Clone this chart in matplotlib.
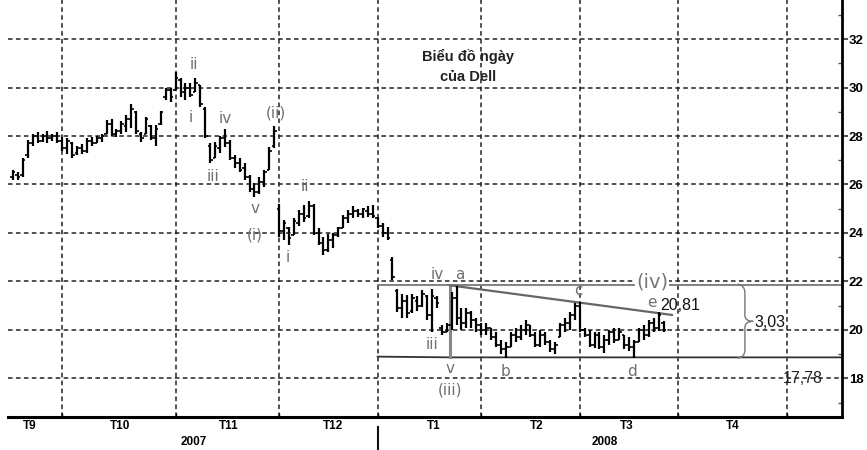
import matplotlib
matplotlib.use("Agg")
import matplotlib.pyplot as plt
from matplotlib.path import Path
from matplotlib.patches import PathPatch
import matplotlib.transforms as mtransforms

plt.rcParams['font.family'] = ['Liberation Sans', 'DejaVu Sans']

# trading day index (0 = first session of T10/2007)
days = list(range(-10, 123))
highs = [26.6, 26.5, 27.1, 27.85, 28.1, 28.15, 28.1, 28.2, 28.1, 28.15,
         27.95, 27.9, 27.75, 27.6, 27.65, 27.9, 27.95, 28.0, 28.1, 28.65,
         28.7, 28.3, 28.6, 28.85, 29.3, 29.05, 28.15, 28.8, 28.45, 28.45,
         29.05, 30.0, 30.0, 30.65, 30.4, 30.2, 30.2, 30.4, 30.1, 29.2,
         27.7, 27.75, 28.0, 28.3, 27.85, 27.2, 27.1, 26.9, 26.4, 26.05,
         26.3, 26.6, 27.55, 28.4, 25.2, 24.55, 24.25, 24.6, 24.95, 25.15,
         25.3, 25.2, 24.2, 23.85, 23.95, 24.0, 24.25, 24.75, 24.95, 25.1,
         25.0, 25.05, 25.1, 25.15, 24.65, 24.4, 24.25, 23.0, 21.7, 21.5,
         21.45, 21.5, 21.4, 21.65, 21.45, 21.7, 21.4, 20.2, 20.3, 21.55,
         21.8, 20.9, 20.9, 20.8, 20.5, 20.3, 20.3, 20.1, 19.9, 19.6,
         19.5, 19.9, 20.1, 20.2, 20.4, 20.2, 19.9, 20.0, 19.9, 19.6,
         19.5, 20.3, 20.5, 20.75, 21.1, 21.15, 20.1, 20.0, 19.9, 19.9,
         19.8, 20.0, 20.1, 20.1, 19.8, 19.7, 19.6, 20.1, 20.2, 20.4,
         20.5, 20.75, 20.35]
lows = [26.2, 26.2, 26.3, 27.1, 27.6, 27.7, 27.75, 27.7, 27.8, 27.7,
        27.4, 27.25, 27.1, 27.2, 27.25, 27.3, 27.6, 27.7, 27.75, 28.1,
        28.0, 27.95, 28.1, 28.15, 28.35, 28.1, 27.75, 28.1, 27.85, 27.6,
        28.45, 29.5, 29.4, 29.9, 29.6, 29.5, 29.6, 29.8, 29.2, 27.9,
        26.9, 27.1, 27.3, 27.55, 27.0, 26.7, 26.5, 26.2, 25.7, 25.5,
        25.6, 25.9, 26.6, 27.5, 23.85, 23.7, 23.5, 23.9, 24.3, 24.45,
        24.6, 23.9, 23.5, 23.1, 23.2, 23.4, 23.85, 24.2, 24.4, 24.6,
        24.65, 24.6, 24.65, 24.6, 24.2, 23.85, 23.7, 22.05, 20.75, 20.5,
        20.5, 20.7, 20.8, 20.95, 20.4, 19.9, 20.9, 19.8, 19.9, 20.0,
        20.2, 20.0, 20.1, 20.1, 19.9, 19.8, 19.8, 19.6, 19.3, 19.0,
        18.85, 19.3, 19.5, 19.6, 19.8, 19.7, 19.3, 19.3, 19.4, 19.1,
        19.0, 19.7, 19.9, 20.0, 20.4, 19.9, 19.7, 19.3, 19.25, 19.2,
        19.05, 19.4, 19.45, 19.6, 19.2, 19.15, 18.85, 19.5, 19.6, 19.7,
        19.9, 19.95, 19.9]
opens = [26.3, 26.4, 26.4, 27.2, 27.7, 28.0, 27.8, 28.0, 27.9, 28.0,
         27.8, 27.5, 27.7, 27.3, 27.5, 27.4, 27.8, 27.7, 27.9, 28.1,
         28.5, 28.1, 28.2, 28.4, 28.7, 29.0, 28.1, 28.1, 28.4, 27.9,
         28.5, 29.6, 29.9, 29.9, 30.3, 29.8, 30.0, 29.8, 30.1, 29.1,
         27.6, 27.1, 27.5, 27.9, 27.7, 27.1, 26.9, 26.7, 26.3, 25.8,
         25.7, 26.1, 26.6, 27.6, 25.0, 24.1, 24.2, 23.9, 24.4, 24.8,
         24.7, 25.1, 24.0, 23.6, 23.3, 23.7, 23.9, 24.2, 24.6, 24.8,
         24.9, 24.8, 24.9, 24.8, 24.6, 24.3, 24.0, 22.9, 21.6, 20.9,
         21.2, 20.8, 21.2, 21.0, 21.4, 20.6, 21.3, 20.1, 19.9, 20.2,
         21.3, 20.5, 20.3, 20.7, 20.4, 20.2, 20.0, 20.1, 19.7, 19.4,
         19.2, 19.3, 19.8, 19.7, 20.0, 20.2, 19.8, 19.4, 19.8, 19.5,
         19.2, 19.7, 20.2, 20.3, 20.6, 21.0, 20.0, 19.8, 19.4, 19.8,
         19.3, 19.6, 19.9, 19.6, 19.8, 19.4, 19.3, 19.5, 20.0, 19.8,
         20.3, 20.1, 20.3]
closes = [26.5, 26.3, 27.0, 27.7, 28.0, 27.8, 28.0, 27.9, 28.0, 27.8,
          27.5, 27.8, 27.2, 27.5, 27.4, 27.8, 27.7, 27.9, 28.0, 28.5,
          28.1, 28.2, 28.5, 28.7, 29.1, 28.2, 27.9, 28.7, 27.9, 28.3,
          29.0, 29.9, 29.6, 30.4, 29.8, 30.0, 29.7, 30.2, 29.3, 28.0,
          27.0, 27.6, 27.9, 27.7, 27.1, 26.9, 26.6, 26.3, 25.8, 25.7,
          26.1, 26.5, 27.4, 28.2, 24.1, 24.4, 23.8, 24.5, 24.8, 24.6,
          25.1, 24.0, 23.6, 23.3, 23.7, 23.9, 24.2, 24.6, 24.8, 24.9,
          24.8, 25.0, 24.8, 24.7, 24.3, 24.0, 23.8, 22.2, 20.9, 21.2,
          20.7, 21.3, 21.0, 21.5, 20.6, 21.4, 21.1, 19.9, 20.2, 21.3,
          20.5, 20.3, 20.7, 20.4, 20.2, 20.0, 20.1, 19.7, 19.4, 19.2,
          19.3, 19.8, 19.7, 20.0, 20.2, 19.8, 19.4, 19.8, 19.5, 19.2,
          19.4, 20.2, 20.3, 20.6, 21.0, 20.0, 19.8, 19.4, 19.8, 19.3,
          19.6, 19.9, 19.6, 19.9, 19.4, 19.3, 19.5, 20.0, 19.8, 20.3,
          20.1, 20.6, 20.0]

month_starts = [0, 23, 44, 64, 85, 105, 125, 147]
month_labels = ['T9', 'T10', 'T11', 'T12', 'T1', 'T2', 'T3', 'T4']
month_label_pos = [-6.5, 11.8, 33.7, 55.0, 75.3, 96.3, 114.6, 136.1]
year_labels = ['2007', '2008']
year_label_pos = [26.6, 110.1]
price_ticks = [18, 20, 22, 24, 26, 28, 30, 32]

# triangle (iv) lines
top_level = 21.84
bottom_level = 18.87
a_point = (78.7, 21.84)
trend_end = (123.7, 20.62)

wave_labels = [
    ('ii', 26.8, 30.93), ('i', 26.0, 28.78), ('iv', 33.1, 28.74),
    ('iii', 30.6, 26.31), ('v', 39.1, 25.03), ('(ii)', 43.4, 28.95),
    ('(i)', 39.1, 23.9), ('ii', 49.3, 25.9), ('i', 45.8, 22.97),
    ('iv', 76.1, 22.27), ('a', 80.7, 22.27), ('iii', 75.0, 19.38),
    ('v', 78.7, 18.43), ('(iii)', 78.7, 17.53), ('b', 89.9, 18.27),
    ('c', 104.7, 21.62), ('e', 119.7, 21.15), ('d', 115.6, 18.27),
]

fig = plt.figure(figsize=(8.67, 4.5), dpi=100)
ax = fig.add_axes([8 / 867, 33 / 450, 834 / 867, 417 / 450])
ax.set_xlim(-11, 158.2)
ax.set_ylim(16.41, 33.61)

# luoi net dut
for y in price_ticks:
    ax.axhline(y, color='#222', lw=1.1, ls=(0, (3, 2.2)), zorder=1)
for x in month_starts:
    ax.axvline(x, color='#222', lw=1.1, ls=(0, (3, 2.2)), zorder=1)

# OHLC bars
ax.vlines(days, lows, highs, color='#000', lw=1.6, zorder=3)
ax.hlines(opens, [d - 0.5 for d in days], days, color='#000', lw=1.2, zorder=3)
ax.hlines(closes, days, [d + 0.5 for d in days], color='#000', lw=1.2, zorder=3)

# duong tam giac
xr = ax.get_xlim()[1]
ax.plot([month_starts[3], xr], [top_level, top_level], color='#777', lw=1.3, zorder=2)
ax.plot([month_starts[3], a_point[0], xr], [bottom_level + 0.03, bottom_level, bottom_level],
        color='#333', lw=1.3, zorder=2)
ax.plot([a_point[0], a_point[0]], [a_point[1], bottom_level], color='#888', lw=2.2, zorder=2)
ax.plot([a_point[0], trend_end[0]], [a_point[1], trend_end[1]], color='#666', lw=1.6, zorder=2)

# ngoac nhon 3,03
bx0, bxm, bxt = 137.0, 138.5, 140.2
ymid = (top_level + bottom_level) / 2
verts = [(bx0, top_level + 0.05), (bxm, top_level), (bxm, top_level - 0.3),
         (bxm, ymid + 0.25), (bxm, ymid), (bxt, ymid),
         (bxm, ymid), (bxm, ymid - 0.25),
         (bxm, bottom_level + 0.3), (bxm, bottom_level), (bx0, bottom_level - 0.03)]
codes = [Path.MOVETO, Path.CURVE3, Path.CURVE3, Path.LINETO, Path.CURVE3, Path.CURVE3,
         Path.CURVE3, Path.CURVE3, Path.LINETO, Path.CURVE3, Path.CURVE3]
ax.add_patch(PathPatch(Path(verts, codes), fill=False, ec='#777', lw=1.0, zorder=2))

# nhan song
for txt, x, y in wave_labels:
    ax.text(x, y, txt, color='#707070', fontsize=11, ha='center', va='center', zorder=4,
            family=['DejaVu Sans'])
ax.text(119.7, 21.98, '(iv)', color='#777', fontsize=14, ha='center', va='center', zorder=4,
        family=['DejaVu Sans'], bbox=dict(fc='white', ec='none', pad=0.5))
ax.text(125.4, 20.99, '20,81', color='#111', fontsize=11.5, ha='center', va='center', zorder=4)
ax.text(143.6, 20.29, '3,03', color='#111', fontsize=11.5, ha='center', va='center', zorder=4)
ax.text(150.3, 17.98, '17,78', color='#222', fontsize=11.5, ha='center', va='center', zorder=4)

ax.text(82.4, 31.3, 'Biểu đồ ngày', color='#222', fontsize=10.5, fontweight='bold',
        ha='center', va='center', zorder=4)
ax.text(82.4, 30.45, 'của Dell', color='#222', fontsize=10.5, fontweight='bold',
        ha='center', va='center', zorder=4)

# truc
for s in ['top', 'left']:
    ax.spines[s].set_visible(False)
ax.spines['right'].set_linewidth(2)
ax.spines['bottom'].set_linewidth(2.2)
ax.yaxis.tick_right()
ax.set_yticks(price_ticks)
ax.set_yticklabels([str(v) for v in price_ticks], fontsize=9.5, fontweight='bold',
                   family=['Liberation Sans Narrow', 'Liberation Sans'])
ax.set_yticks([17, 19, 21, 23, 25, 27, 29, 31, 33], minor=True)
ax.tick_params(axis='y', which='major', direction='out', length=4, width=1.5, pad=1, color='#555')
ax.tick_params(axis='y', which='minor', direction='in', length=3, width=1, color='#555')

ax.set_xticks(month_starts)
ax.set_xticklabels([])
ax.tick_params(axis='x', which='major', length=3, width=1, direction='in')
ax.set_xticks(month_label_pos, minor=True)
ax.set_xticklabels(month_labels, minor=True, fontsize=8.5, fontweight='bold')
ax.tick_params(axis='x', which='minor', length=0, pad=2)

trans = mtransforms.blended_transform_factory(ax.transData, ax.transAxes)
for lbl, x in zip(year_labels, year_label_pos):
    ax.text(x, -0.06, lbl, transform=trans, fontsize=8.5, fontweight='bold',
            ha='center', va='center')
ax.plot([month_starts[3], month_starts[3]], [-0.025, -0.08], transform=trans,
        color='#111', lw=1.5, clip_on=False)

fig.savefig('out.png', dpi=100)
